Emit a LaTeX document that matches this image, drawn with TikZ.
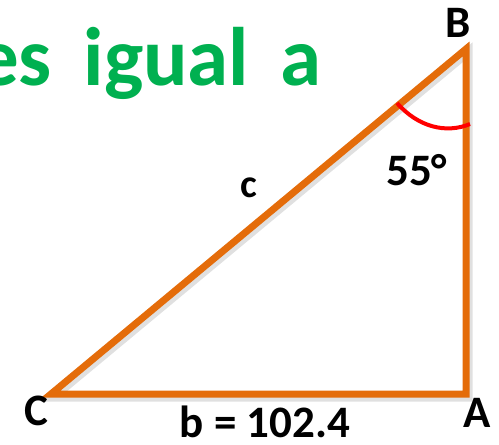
\documentclass[tikz,border=0pt]{standalone}
\usepackage{fontspec}
\setmainfont{Carlito}
\usepackage{tikz}
\usepackage{xcolor}
\usetikzlibrary{positioning,calc}
\definecolor{cSide}{HTML}{E46C0A}
\definecolor{cAng}{HTML}{FF0000}
\definecolor{cTitle}{HTML}{00B050}
\definecolor{cInk}{HTML}{000000}
\tikzset{
  side/.style   ={line width=7pt,cSide,line join=miter},
  shade/.style  ={line width=9pt,black!12,line join=miter},
  angarc/.style ={line width=4pt,cAng},
  vlbl/.style   ={font=\fontsize{45}{50}\selectfont\bfseries,text=cInk,inner sep=0pt},
  slbl/.style   ={font=\fontsize{40}{44}\selectfont\bfseries,text=cInk,inner sep=0pt},
  ttl/.style    ={font=\fontsize{83}{90}\selectfont\bfseries,text=cTitle,inner sep=0pt},
}

\begin{document}
\begin{tikzpicture}[x=1pt,y=-1pt]
\useasboundingbox (0,0) rectangle (499,445);
% vertices
\coordinate (C) at (51,394);
\coordinate (A) at (466,394);
\coordinate (B) at (466,49);

% title text, cut at the left edge
\node[ttl,anchor=base east] (title) at (322,85) {es\hspace{0.38em}igual\hspace{0.38em}a};

% triangle with its soft shadow
\draw[shade] ($(C)+(2,3)$) -- ($(A)+(2,3)$) -- ($(B)+(2,3)$) -- cycle;
\draw[side] (C) -- (A) -- (B) -- cycle;

% angle at B
\coordinate (a1) at (397,103);
\coordinate (a2) at (470,124);
\draw[angarc] (a1) .. controls (418,127) and (446,134) .. (a2);

% labels
\node[vlbl,anchor=base] (lB) at (458,37) {B};
\node[vlbl,anchor=base east] (lA) at (491,427) {A};
\node[vlbl,anchor=base west] (lC) at (24,425) {C};
\node[vlbl,anchor=base west] (lang) at (386,185) {55°};
\node[slbl,anchor=base] (lc) at (249,197) {c};
\node[vlbl,anchor=base] (lb) at (265,437) {b = 102.4};
\end{tikzpicture}
\end{document}
